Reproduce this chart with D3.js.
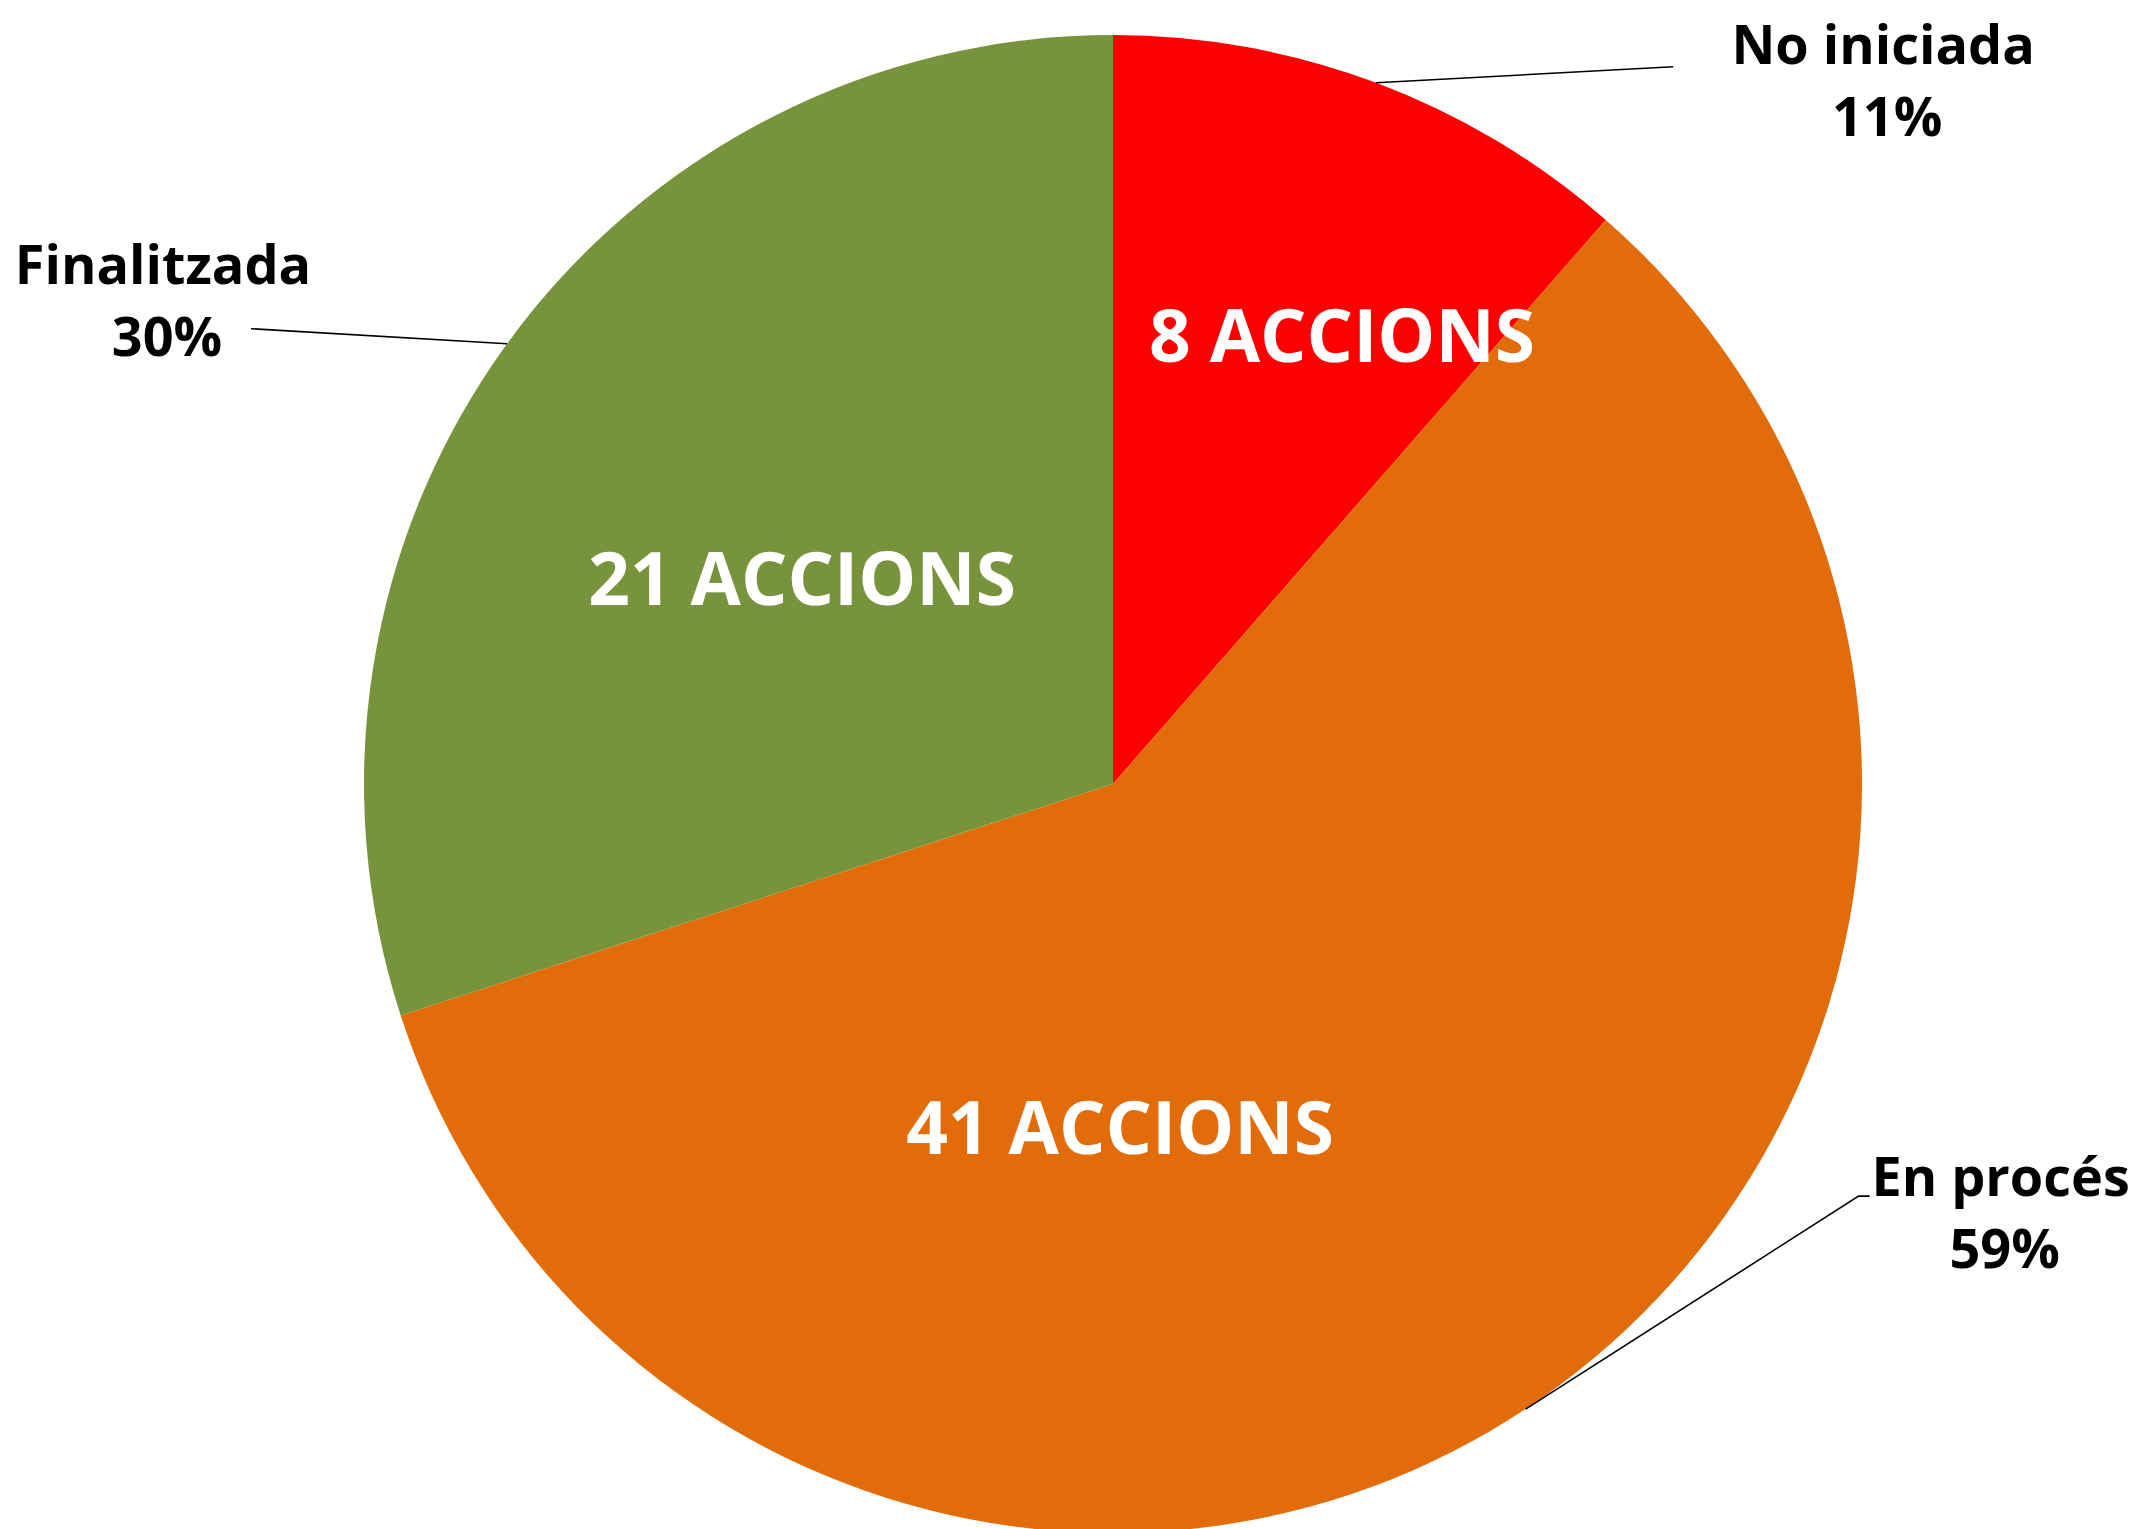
<!DOCTYPE html>
<html>
<head>
<meta charset="utf-8">
<script src="https://cdn.jsdelivr.net/npm/d3@7"></script>
<style>
  html, body { margin: 0; padding: 0; background: #fff; overflow: hidden; }
  text { font-family: "Open Sans", "Noto Sans", sans-serif; font-weight: bold; }
</style>
</head>
<body>
<div class="chart"></div>
<script>
// Pie chart: estat de les accions

let categories = ["No iniciada", "En procés", "Finalitzada"];
let values = [8, 41, 21];
let percentLabels = ["11%", "59%", "30%"];
let innerLabels = ["8 ACCIONS", "41 ACCIONS", "21 ACCIONS"];
let colors = ["#FF0000", "#E36C0A", "#77933C"];

let svgWidth = 2136;
let svgHeight = 1529;
let cx = 1113, cy = 784, radius = 749;

// layout of the labels (offsets from the pie centre / from the arc point)
let innerPos = [[229, -422], [7, 370], [-311, -179]];
let leader = [
  { elbow: [297, -16], end: [297, -16], text: [507, -19] },
  { elbow: [333, -213], end: [344, -213], text: [475, -213] },
  { elbow: [-256, -15], end: [-256, -15], text: [-344, -60] }
];

let svg = d3.select(".chart")
  .append("svg")
  .attr("width", svgWidth)
  .attr("height", svgHeight);

let g = svg.append("g")
  .attr("transform", `translate(${cx}, ${cy})`);

let pie = d3.pie().sort(null).value(d => d);
let arcs = pie(values);

let arc = d3.arc().innerRadius(0).outerRadius(radius);

g.selectAll("path.slice")
  .data(arcs)
  .enter()
  .append("path")
  .attr("class", "slice")
  .attr("d", arc)
  .attr("fill", (d, i) => colors[i]);

// labels inside the slices
g.selectAll("text.inner")
  .data(arcs)
  .enter()
  .append("text")
  .attr("class", "inner")
  .attr("x", (d, i) => innerPos[i][0])
  .attr("y", (d, i) => innerPos[i][1])
  .attr("text-anchor", "middle")
  .attr("fill", "#fff")
  .style("font-size", "73px")
  .text((d, i) => innerLabels[i]);

// leader lines start on the arc at the middle angle of each slice
function arcPoint(d) {
  let a = (d.startAngle + d.endAngle) / 2;
  return [radius * Math.sin(a), -radius * Math.cos(a)];
}

g.selectAll("polyline.leader")
  .data(arcs)
  .enter()
  .append("polyline")
  .attr("class", "leader")
  .attr("points", (d, i) => {
    let p = arcPoint(d);
    let l = leader[i];
    return [p, [p[0] + l.elbow[0], p[1] + l.elbow[1]], [p[0] + l.end[0], p[1] + l.end[1]]]
      .map(q => q.join(",")).join(" ");
  })
  .attr("fill", "none")
  .attr("stroke", "#000")
  .attr("stroke-width", 1.6);

let outer = g.selectAll("text.outer")
  .data(arcs)
  .enter()
  .append("text")
  .attr("class", "outer")
  .attr("text-anchor", "middle")
  .attr("fill", "#000")
  .style("font-size", "54px")
  .attr("transform", (d, i) => {
    let p = arcPoint(d);
    return `translate(${p[0] + leader[i].text[0]}, ${p[1] + leader[i].text[1]})`;
  });

outer.append("tspan")
  .attr("x", 0)
  .attr("y", 0)
  .text((d, i) => categories[i]);

outer.append("tspan")
  .attr("x", 4)
  .attr("y", 72)
  .text((d, i) => percentLabels[i]);
</script>
</body>
</html>
